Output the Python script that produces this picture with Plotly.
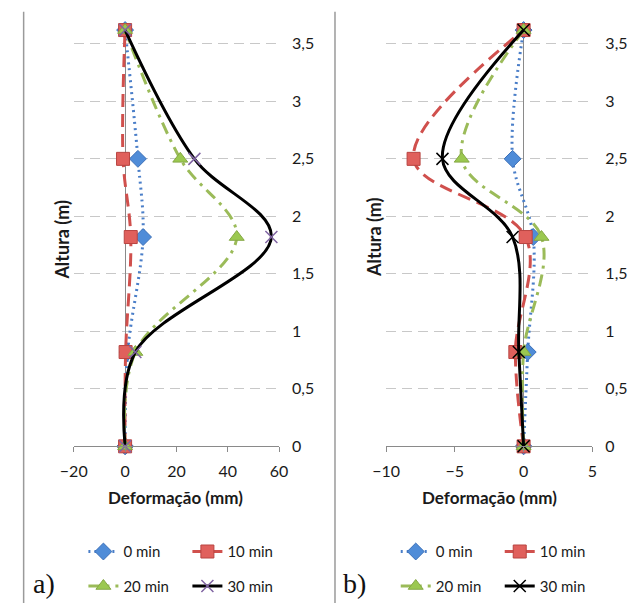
import plotly.graph_objects as go

# ---------------- data ----------------
heights = [0, 0.82, 1.82, 2.5, 3.62]          # Altura (m)
series_names = ["0 min", "10 min", "20 min", "30 min"]

# panel a) Deformação (mm)
a_0min = [0, 1.0, 7.0, 5.0, 0]
a_10min = [0, 0.2, 2.2, -0.8, 0]
a_20min = [0, 4.0, 43.5, 21.5, 0]
a_30min = [0, 4.0, 57.0, 27.0, 0]

# panel b) Deformação (mm)
b_0min = [0, 0.3, 0.7, -0.8, 0]
b_10min = [0, -0.6, 0.15, -8.0, 0]
b_20min = [0, 0.0, 1.3, -4.5, 0]
b_30min = [0, -0.35, -0.8, -5.9, 0]

a_xrange = [-20, 60]
b_xrange = [-10, 5]
a_xticks = [-20, 0, 20, 40, 60]
b_xticks = [-10, -5, 0, 5]
y_range = [0, 3.65]
y_tickvals = [0, 0.5, 1, 1.5, 2, 2.5, 3, 3.5]
y_ticktext = ["0", "0,5", "1", "1,5", "2", "2,5", "3", "3,5"]

# ---------------- styles ----------------
FONT = "Lato"
W, H = 638, 612
styles = [
    dict(line=dict(color="#4A7EC8", width=3, dash="2px,4px", shape="spline"),
         marker=dict(symbol="diamond", size=13, color="#4F8CD8",
                     line=dict(color="#3C70B8", width=1))),
    dict(line=dict(color="#D0504D", width=3, dash="13px,7px", shape="spline"),
         marker=dict(symbol="square", size=13, color="#E0605C",
                     line=dict(color="#B84440", width=1))),
    dict(line=dict(color="#9BBB59", width=3, dash="12px,6px,3px,6px", shape="spline"),
         marker=dict(symbol="triangle-up", size=13, color="#9BC850",
                     line=dict(color="#85A845", width=1))),
]
style30_a = dict(line=dict(color="#000000", width=3, shape="spline"),
                 marker=dict(symbol="x-thin", size=12, color="#8064A2",
                             line=dict(color="#8064A2", width=1.5)))
style30_b = dict(line=dict(color="#000000", width=3, shape="spline"),
                 marker=dict(symbol="x-thin", size=12, color="#000000",
                             line=dict(color="#000000", width=1.5)))

fig = go.Figure()

panels = [
    ("x", "y", [a_0min, a_10min, a_20min, a_30min], style30_a, ["legend", "legend2"]),
    ("x2", "y2", [b_0min, b_10min, b_20min, b_30min], style30_b, ["legend3", "legend4"]),
]
for xa, ya, data, st30, legs in panels:
    for i, (name, vals) in enumerate(zip(series_names, data)):
        st = styles[i] if i < 3 else st30
        fig.add_trace(go.Scatter(
            x=vals, y=heights, name=name, mode="lines+markers",
            xaxis=xa, yaxis=ya, cliponaxis=False,
            legend=legs[0] if i < 2 else legs[1],
            **st))

def px_x(p):
    return p / W

def px_y(p):
    return (H - p) / H

ydom = [px_y(453), px_y(27)]
a_dom = [px_x(62), px_x(275)]
b_dom = [px_x(386), px_x(600)]
axis_font = dict(family=FONT, size=16, color="#1a1a1a")
GRAY = "#8a8a8a"

common_x = dict(showgrid=False, zeroline=True, zerolinecolor=GRAY, zerolinewidth=1.2,
                showline=True, linecolor=GRAY, linewidth=1.2,
                ticks="outside", ticklen=5, tickcolor=GRAY, tickwidth=1.2,
                ticklabelstandoff=5, tickfont=axis_font)
common_y = dict(range=y_range, domain=ydom, side="right",
                tickvals=y_tickvals, ticktext=y_ticktext,
                showgrid=True, gridcolor="#c8c8c8", gridwidth=1, griddash="10px,6px",
                zeroline=False, showline=False, ticks="", ticklabelstandoff=12,
                tickfont=axis_font)

def zero_pos(dom, rng):
    # paper position of x = 0 on an axis with given domain and range
    return dom[0] + (0 - rng[0]) / (rng[1] - rng[0]) * (dom[1] - dom[0])

# small tick marks on the vertical axis line crossing at x = 0
tick_y = dict(range=y_range, domain=ydom, anchor="free", side="left",
              tickvals=y_tickvals, showticklabels=False, showgrid=False,
              zeroline=False, showline=False, ticks="outside", ticklen=4,
              tickcolor=GRAY, tickwidth=1.2)

fig.update_layout(
    width=W, height=H, margin=dict(l=0, r=0, t=0, b=0),
    paper_bgcolor="white", plot_bgcolor="white",
    font=dict(family=FONT, color="#1a1a1a"),
    xaxis=dict(domain=a_dom, range=a_xrange, tickvals=a_xticks, anchor="y", **common_x),
    xaxis2=dict(domain=b_dom, range=b_xrange, tickvals=b_xticks, anchor="y2", **common_x),
    yaxis=dict(anchor="x", **common_y),
    yaxis2=dict(anchor="x2", **common_y),
    yaxis3=dict(overlaying="y", position=zero_pos(a_dom, a_xrange), **tick_y),
    yaxis4=dict(overlaying="y2", position=zero_pos(b_dom, b_xrange), **tick_y),
)

leg_common = dict(orientation="h", entrywidth=59, entrywidthmode="pixels",
                  font=dict(family=FONT, size=15, color="#1a1a1a"),
                  bgcolor="rgba(0,0,0,0)", borderwidth=0,
                  xanchor="left", yanchor="middle", itemwidth=30)
fig.update_layout(
    legend=dict(x=px_x(72), y=px_y(560), **leg_common),
    legend2=dict(x=px_x(72), y=px_y(595), **leg_common),
    legend3=dict(x=px_x(396), y=px_y(560), **leg_common),
    legend4=dict(x=px_x(396), y=px_y(595), **leg_common),
)

# axis titles and panel labels
ann = []
for cx, cy in [(168, 505), (493, 505)]:
    ann.append(dict(text="<b>Deformação (mm)</b>", x=px_x(cx), y=px_y(cy), xref="paper", yref="paper",
                    showarrow=False, xanchor="center", yanchor="middle",
                    font=dict(family=FONT, size=17, color="#1a1a1a")))
for cx, cy in [(50, 243), (374, 241)]:
    ann.append(dict(text="<b>Altura (m)</b>", x=px_x(cx), y=px_y(cy), xref="paper", yref="paper",
                    showarrow=False, xanchor="center", yanchor="middle", textangle=-90,
                    font=dict(family=FONT, size=18, color="#1a1a1a")))
for lab, cx in [("a)", 31), ("b)", 353)]:
    ann.append(dict(text=lab, x=px_x(cx), y=px_y(592), xref="paper", yref="paper",
                    showarrow=False, xanchor="center", yanchor="middle",
                    font=dict(family="Liberation Serif", size=28, color="#111111")))
fig.update_layout(annotations=ann)

# panel border lines (left edges of the two chart frames)
shapes = []
for bx in [10, 333]:
    shapes.append(dict(type="line", xref="paper", yref="paper",
                       x0=px_x(bx), x1=px_x(bx), y0=0, y1=px_y(12),
                       line=dict(color="#9a9a9a", width=1.5)))
fig.update_layout(shapes=shapes)

fig.write_html("out.html")
